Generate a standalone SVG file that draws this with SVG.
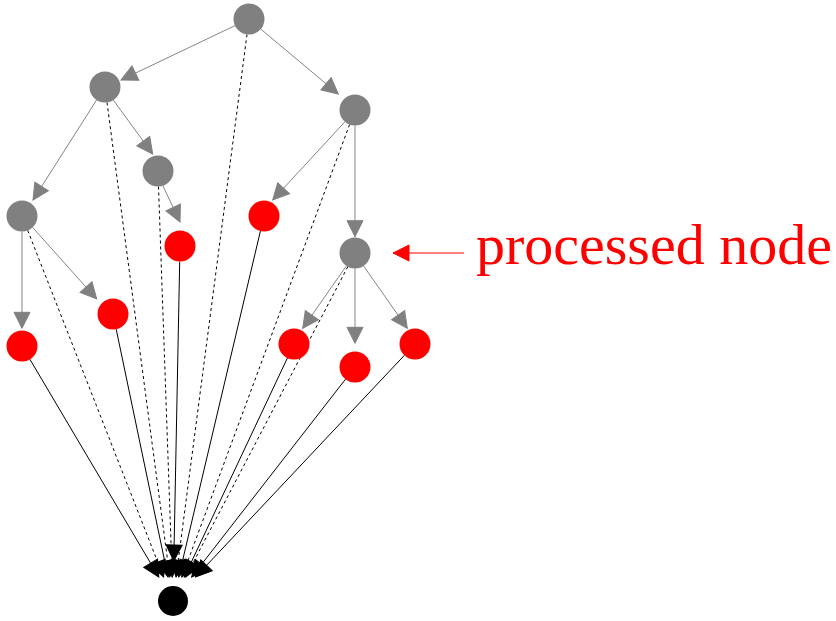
<svg xmlns="http://www.w3.org/2000/svg" width="836" height="621" viewBox="0 0 836 621">
  <style>
    .tree { stroke: #858585; stroke-width: 1; fill: none; marker-end: url(#ah-gray); }
    .sol { stroke: #000; stroke-width: 1; fill: none; marker-end: url(#ah-black); }
    .dash { stroke: #000; stroke-width: 1; stroke-dasharray: 3 3; fill: none; marker-end: url(#ah-black); }
    .gray { fill: #808080; }
    .red { fill: #ff0000; }
    .sink { fill: #000; }
    .label { font-family: "Liberation Serif", "Times New Roman", serif; font-size: 58px; fill: #ff0000; }
  </style>
  <defs>
    <marker id="ah-gray" viewBox="-1 -1 18 18" refX="16" refY="8" markerWidth="18" markerHeight="18" markerUnits="userSpaceOnUse" orient="auto">
      <path d="M0,0 L16,8 L0,16 z" fill="#808080" stroke="#808080" stroke-width="1"/>
    </marker>
    <marker id="ah-black" viewBox="-1 -1 18 18" refX="16" refY="8" markerWidth="18" markerHeight="18" markerUnits="userSpaceOnUse" orient="auto">
      <path d="M0,0 L16,8 L0,16 z" fill="#000" stroke="#000" stroke-width="1"/>
    </marker>
    <marker id="ah-red" viewBox="-1 -1 18 18" refX="16" refY="8" markerWidth="18" markerHeight="18" markerUnits="userSpaceOnUse" orient="auto">
      <path d="M0,0 L16,8 L0,16 z" fill="#ff0000" stroke="#ff0000" stroke-width="1"/>
    </marker>
  </defs>

  <g id="connectors">
    <!-- dashed edges from inner nodes to the sink -->
    <line class="dash" x1="247.0" y1="34.4" x2="176.1" y2="577"/>
    <line class="dash" x1="107.0" y1="102.4" x2="169.8" y2="577"/>
    <line class="dash" x1="158.5" y1="186.5" x2="172.2" y2="577"/>
    <line class="dash" x1="27.7" y1="230.4" x2="163.6" y2="577"/>
    <line class="dash" x1="349.6" y1="124.5" x2="181.9" y2="577"/>
    <line class="dash" x1="347.8" y1="266.7" x2="185.6" y2="577"/>
    <!-- solid edges from leaves to the sink -->
    <line class="sol" x1="260.4" y1="231.1" x2="178.7" y2="577"/>
    <line class="sol" x1="179.7" y1="261.5" x2="173.8" y2="561"/>
    <line class="sol" x1="116.2" y1="329.2" x2="168.0" y2="577"/>
    <line class="sol" x1="29.9" y1="359.3" x2="158.8" y2="577"/>
    <line class="sol" x1="287.4" y1="358.0" x2="184.3" y2="577"/>
    <line class="sol" x1="345.5" y1="379.2" x2="191.7" y2="577"/>
    <line class="sol" x1="404.4" y1="355.3" x2="195.6" y2="577"/>
    <!-- tree edges -->
    <line class="tree" x1="235.0" y1="25.6" x2="121" y2="80"/>
    <line class="tree" x1="260.8" y1="29.1" x2="338.3" y2="94"/>
    <line class="tree" x1="96.6" y1="100.0" x2="33" y2="200"/>
    <line class="tree" x1="113.3" y1="100.1" x2="152.7" y2="154"/>
    <line class="tree" x1="163" y1="186" x2="180" y2="222"/>
    <line class="tree" x1="344.9" y1="121.8" x2="272.7" y2="200"/>
    <line class="tree" x1="355" y1="125.5" x2="355" y2="236.7"/>
    <line class="tree" x1="22" y1="231.5" x2="22" y2="328.3"/>
    <line class="tree" x1="32.6" y1="227.4" x2="96.7" y2="299"/>
    <line class="tree" x1="346.4" y1="265.9" x2="302.7" y2="328.3"/>
    <line class="tree" x1="355" y1="268.5" x2="355" y2="343.3"/>
    <line class="tree" x1="363.5" y1="265.9" x2="407.3" y2="328.3"/>
    <!-- pointer to the processed node -->
    <line x1="464" y1="253" x2="393" y2="253" stroke="#ff0000" stroke-width="1" marker-end="url(#ah-red)"/>
  </g>

  <g id="root"><circle class="gray" cx="249" cy="19" r="15.5"/></g>
  <g id="a"><circle class="gray" cx="105" cy="87" r="15.5"/></g>
  <g id="b"><circle class="gray" cx="355" cy="110" r="15.5"/></g>
  <g id="c"><circle class="gray" cx="158" cy="171" r="15.5"/></g>
  <g id="d"><circle class="gray" cx="22" cy="216" r="15.5"/></g>
  <g id="e"><circle class="gray" cx="355" cy="253" r="15.5"/></g>
  <g id="r1"><circle class="red" cx="264" cy="216" r="15.5"/></g>
  <g id="r2"><circle class="red" cx="180" cy="246" r="15.5"/></g>
  <g id="r3"><circle class="red" cx="113" cy="314" r="15.5"/></g>
  <g id="r4"><circle class="red" cx="22" cy="346" r="15.5"/></g>
  <g id="r5"><circle class="red" cx="294" cy="344" r="15.5"/></g>
  <g id="r6"><circle class="red" cx="355" cy="367" r="15.5"/></g>
  <g id="r7"><circle class="red" cx="415" cy="344" r="15.5"/></g>
  <g id="sink"><circle class="sink" cx="173" cy="601" r="15"/></g>

  <g id="label"><text class="label" x="476" y="264">processed node</text></g>
</svg>
